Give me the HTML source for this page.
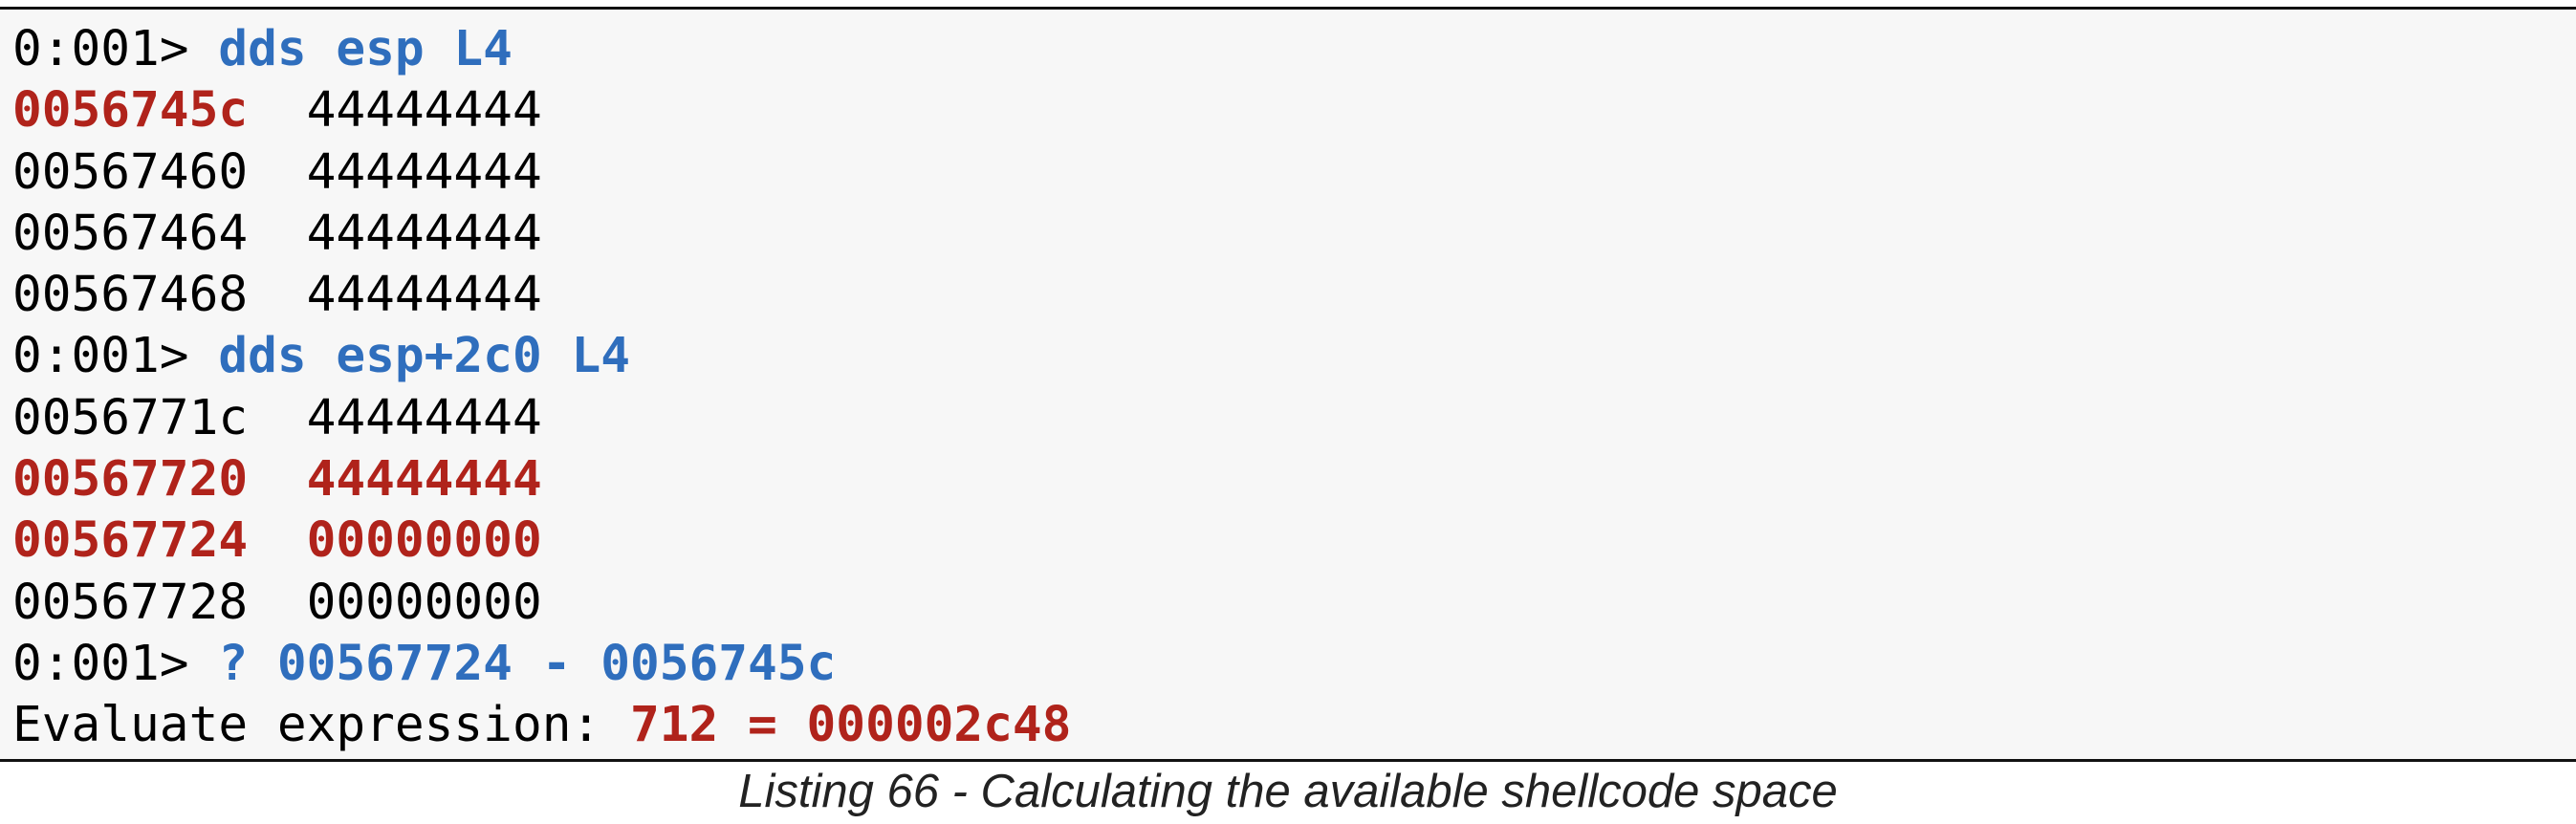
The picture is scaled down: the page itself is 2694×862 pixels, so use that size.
<!DOCTYPE html>
<html><head><style>
html,body{margin:0;padding:0;background:#fff;}
body{width:2694px;height:862px;position:relative;overflow:hidden;}
.box{position:absolute;left:0;top:7px;width:2694px;height:790px;background:#f7f7f7;border-top:3px solid #111;border-bottom:3px solid #111;box-sizing:border-box;}
pre{position:absolute;left:13px;top:20px;margin:0;font-family:"DejaVu Sans Mono","Liberation Mono",monospace;font-size:51.1px;line-height:64.3px;color:#000;}
.b{color:#2f6ebd;font-weight:bold;}
.r{color:#b0231b;font-weight:bold;}
.cap{position:absolute;left:0;width:2694px;top:800px;text-align:center;font-family:"Liberation Sans",sans-serif;font-style:italic;font-size:49px;color:#222;}
</style></head><body>
<div class="box"></div>
<pre>0:001&gt; <span class="b">dds esp L4</span>
<span class="r">0056745c</span>  44444444
00567460  44444444
00567464  44444444
00567468  44444444
0:001&gt; <span class="b">dds esp+2c0 L4</span>
0056771c  44444444
<span class="r">00567720  44444444</span>
<span class="r">00567724  00000000</span>
00567728  00000000
0:001&gt; <span class="b">? 00567724 - 0056745c</span>
Evaluate expression: <span class="r">712 = 000002c48</span></pre>
<div class="cap">Listing 66 - Calculating the available shellcode space</div>
</body></html>
